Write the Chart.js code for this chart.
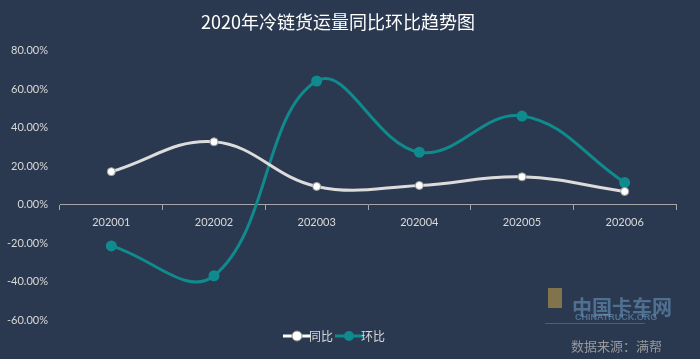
<!DOCTYPE html>
<html>
<head>
<meta charset="utf-8">
<script src="https://cdn.jsdelivr.net/npm/chart.js@4.4.0/dist/chart.umd.min.js"></script>
<style>
  html, body { margin: 0; padding: 0; background: #2b3950; }
  #wrap { width: 700px; height: 359px; position: relative; }
</style>
</head>
<body>
<div id="wrap"><canvas id="chart"></canvas></div>
<script>
// data (percent)
const months = ['202001', '202002', '202003', '202004', '202005', '202006'];
const yoy = [17.1, 32.6, 9.4, 9.9, 14.4, 6.8];    // 同比
const mom = [-21.5, -37.0, 64.2, 27.2, 46.0, 11.4]; // 环比
const yTicks = [-60, -40, -20, 0, 20, 40, 60, 80];

const bg = '#2b3950';
const teal = '#0f8b8d';
const txt = '#d9d9d9';
const font = "Lato, 'Noto Sans CJK SC', sans-serif";

// legend marker: short line with dot
function marker(color, ring) {
  const c = document.createElement('canvas');
  c.width = 30; c.height = 12;
  const g = c.getContext('2d');
  g.strokeStyle = color; g.lineWidth = 3;
  g.beginPath(); g.moveTo(1, 6); g.lineTo(29, 6); g.stroke();
  g.fillStyle = color; g.beginPath(); g.arc(15, 6, 5, 0, Math.PI * 2); g.fill();
  if (ring) { g.strokeStyle = '#8c8c8c'; g.lineWidth = 1; g.stroke(); }
  return c;
}

const bgPlugin = {
  id: 'bg',
  beforeDraw(chart) {
    const ctx = chart.ctx;
    ctx.save();
    ctx.fillStyle = bg;
    ctx.fillRect(0, 0, chart.width, chart.height);
    ctx.restore();
  },
  afterDraw(chart) {
    const ctx = chart.ctx;
    ctx.save();
    ctx.globalAlpha = 0.55;
    ctx.fillStyle = '#6f9fc8';
    ctx.font = "bold 20px 'Noto Sans CJK SC'";
    ctx.fillText('中国卡车网', 572, 307);
    ctx.font = "bold 9px 'Liberation Sans'";
    ctx.fillText('CHINATRUCK.ORG', 575, 318);
    ctx.fillStyle = '#5d7fa3';
    ctx.fillRect(545, 323, 100, 1);
    ctx.fillStyle = '#c9a64a';
    ctx.fillRect(548, 288, 14, 20);
    ctx.globalAlpha = 0.8;
    ctx.fillStyle = '#b0b0b0';
    ctx.font = "13px 'Noto Sans CJK SC'";
    ctx.fillText('数据来源：满帮', 571, 346);
    ctx.restore();
  }
};

new Chart(document.getElementById('chart'), {
  type: 'line',
  data: {
    labels: months,
    datasets: [
      {
        label: '同比',
        data: yoy,
        borderColor: '#dcdcdc',
        borderWidth: 3,
        tension: 0.4,
        pointRadius: 4,
        pointBackgroundColor: '#ffffff',
        pointBorderColor: '#9a9a9a',
        pointBorderWidth: 1,
        pointStyle: 'circle'
      },
      {
        label: '环比',
        data: mom,
        borderColor: teal,
        borderWidth: 3,
        tension: 0.4,
        pointRadius: 4,
        pointBackgroundColor: teal,
        pointBorderColor: teal,
        pointStyle: 'circle'
      }
    ]
  },
  options: {
    responsive: true,
    maintainAspectRatio: false,
    animation: false,
    layout: { padding: { left: 0, right: 24, top: 4, bottom: 7 } },
    plugins: {
      title: {
        display: true,
        text: '2020年冷链货运量同比环比趋势图',
        color: '#ffffff',
        font: { family: "'Noto Sans CJK SC'", size: 18, weight: 'normal' },
        padding: { top: 7, bottom: 18 }
      },
      legend: {
        position: 'bottom',
        labels: {
          color: txt,
          font: { family: "'Noto Sans CJK SC'", size: 12 },
          usePointStyle: true,
          generateLabels(chart) {
            return chart.data.datasets.map((d, i) => ({
              text: d.label,
              fontColor: txt,
              pointStyle: marker(i === 0 ? '#ffffff' : teal, i === 0),
              datasetIndex: i,
              hidden: false,
              lineWidth: 0
            }));
          }
        }
      },
      tooltip: { enabled: false }
    },
    scales: {
      x: {
        position: { y: 0 },
        offset: true,
        grid: { display: true, drawOnChartArea: false, drawTicks: true, tickLength: 5, color: '#a6a6a6', offset: true },
        border: { display: true, color: '#a6a6a6', width: 1 },
        ticks: { color: txt, font: { family: font, size: 11 }, padding: 6 }
      },
      y: {
        min: -60,
        max: 80,
        afterBuildTicks(axis) { axis.ticks = yTicks.map(v => ({ value: v })); },
        afterFit(axis) { axis.width = 60; },
        grid: { display: false, drawTicks: false },
        border: { display: false },
        ticks: {
          color: txt,
          font: { family: font, size: 11 },
          padding: 12,
          callback: v => v.toFixed(2) + '%'
        }
      }
    }
  },
  plugins: [bgPlugin]
});
</script>
</body>
</html>
